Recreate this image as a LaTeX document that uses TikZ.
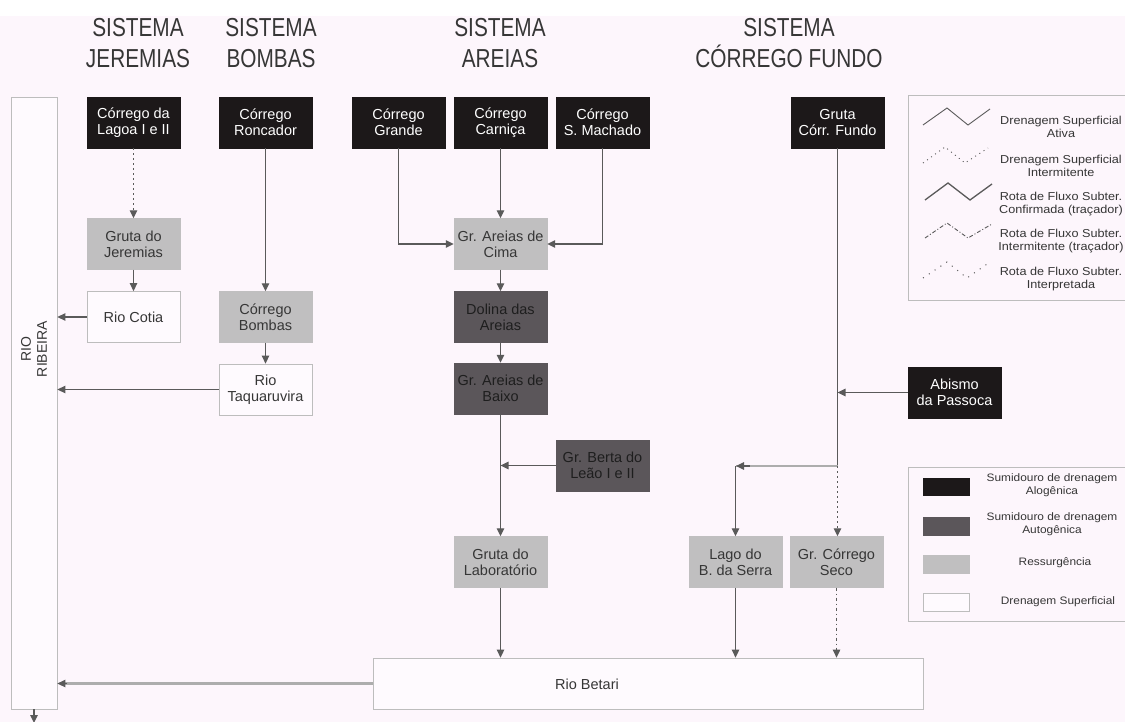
\documentclass[tikz,border=0pt]{standalone}
\usepackage{fontspec}
\setmainfont{Liberation Sans}
\newfontfamily\hdfont[FakeStretch=0.8]{Liberation Sans}
\newfontfamily\lgfont[FakeStretch=1.1]{Liberation Sans}
\usetikzlibrary{arrows.meta,calc}
\definecolor{cBg}{HTML}{FDF6FC}
\definecolor{cBlack}{HTML}{1C1819}
\definecolor{cDark}{HTML}{5B565A}
\definecolor{cGrey}{HTML}{C0BFC0}
\definecolor{cWhite}{HTML}{FEFAFE}
\definecolor{cBorder}{HTML}{BDBDBD}
\definecolor{cLine}{HTML}{5A5A5A}
\definecolor{cWide}{HTML}{ADADAD}
\definecolor{cTxt}{HTML}{363636}
\definecolor{cDarkTxt}{HTML}{1E1E1E}
\tikzset{
  box/.style={minimum width=93pt, minimum height=51pt, inner sep=1pt, align=center,
    font=\fontsize{14.5}{16}\selectfont},
  blk/.style={box, fill=cBlack, draw=cBlack, text=white},
  drk/.style={box, fill=cDark, draw=cDark, text=cDarkTxt},
  gry/.style={box, fill=cGrey, draw=cGrey, text=cTxt},
  wht/.style={box, fill=cWhite, draw=cBorder, line width=0.8pt, text=cTxt},
  hd/.style={align=center, text=cTxt, font=\hdfont\fontsize{26}{31}\selectfont},
  lg/.style={align=center, text=cTxt, font=\lgfont\fontsize{11.5}{13}\selectfont},
  lgb/.style={align=center, text=cTxt, font=\lgfont\fontsize{10.8}{13}\selectfont},
  conn/.style={draw=cLine, line width=1.3pt},
  flow/.style={conn, -{Triangle[length=8pt,width=7.5pt]}},
  wide/.style={draw=cWide, line width=2.4pt},
  dotline/.style={dash pattern=on 2pt off 3pt},
  ddline/.style={dash pattern=on 3pt off 3pt on 1pt off 3pt},
  frame/.style={draw=cBorder, line width=0.8pt},
}
\begin{document}
\begin{tikzpicture}[x=1pt,y=-1pt]
\useasboundingbox (0,0) rectangle (1125,722);
\fill[cBg] (0,0) rectangle (1125,722);
\fill[white] (0,0) rectangle (1125,16);

% headers
\node[hd] (hJ) at (138,43.5) {SISTEMA\\JEREMIAS};
\node[hd] (hB) at (271,43.5) {SISTEMA\\BOMBAS};
\node[hd] (hA) at (500,43.5) {SISTEMA\\AREIAS};
\node[hd] (hF) at (789,43.5) {SISTEMA\\CÓRREGO FUNDO};

% Rio Ribeira
\node[fill=cWhite, draw=cBorder, line width=0.8pt, minimum width=46pt, minimum height=612pt, inner sep=0pt] (ribeira) at (34,403) {};
\node[rotate=90, align=center, text=cTxt, font=\fontsize{14}{16}\selectfont] (ribtxt) at (34,349) {RIO\\RIBEIRA};

% row 1
\node[blk] (lagoa) at (133.5,122.5) {Córrego da\\Lagoa I e II};
\node[blk] (roncador) at (265.5,122.5) {Córrego\\Roncador};
\node[blk] (grande) at (398.5,122.5) {Córrego\\Grande};
\node[blk] (carnica) at (500.5,122.5) {Córrego\\Carniça};
\node[blk] (machado) at (602.5,122.5) {Córrego\\S. Machado};
\node[blk] (fundo) at (837.5,122.5) {Gruta\\Córr. Fundo};

% row 2
\node[gry] (jeremias) at (133.5,244) {Gruta do\\Jeremias};
\node[gry] (cima) at (500.5,244) {Gr. Areias de\\Cima};

% row 3
\node[wht] (cotia) at (133.5,317) {Rio Cotia};
\node[gry] (bombas) at (265.5,317) {Córrego\\Bombas};
\node[drk] (dolina) at (500.5,317) {Dolina das\\Areias};

% row 4
\node[wht] (taquaruvira) at (265.5,389.5) {Rio\\Taquaruvira};
\node[drk] (baixo) at (500.5,388.5) {Gr. Areias de\\Baixo};
\node[blk] (passoca) at (954.5,392.5) {Abismo\\da Passoca};

% row 5
\node[drk] (berta) at (602.5,465.5) {Gr. Berta do\\Leão I e II};

% row 6
\node[gry] (lab) at (500.5,562) {Gruta do\\Laboratório};
\node[gry] (lago) at (735.5,562) {Lago do\\B. da Serra};
\node[gry] (seco) at (836.5,562) {Gr. Córrego\\Seco};

% Rio Betari
\node[fill=cWhite, draw=cBorder, line width=0.8pt, minimum width=550pt, minimum height=51pt, inner sep=0pt] (betari) at (648,683.5) {};
\node[text=cTxt, font=\fontsize{14.5}{16}\selectfont] (betaritxt) at (587,684) {Rio Betari};

% connectors
\draw[flow, dotline] (lagoa) -- (jeremias);
\draw[flow] (jeremias) -- (cotia);
\draw[flow] (cotia.west) -- (cotia.west -| ribeira.east);
\draw[flow] (roncador) -- (bombas);
\draw[flow] (bombas) -- (taquaruvira);
\draw[flow] (taquaruvira.west) -- (taquaruvira.west -| ribeira.east);
\draw[flow] (grande.south) |- (cima.west);
\draw[flow] (carnica) -- (cima);
\draw[flow] (machado.south) |- (cima.east);
\draw[flow] (cima) -- (dolina);
\draw[flow] (dolina) -- (baixo);
\draw[flow] (baixo) -- (lab);
\draw[flow] (berta.west) -- (berta.west -| baixo.south);
\draw[flow] (lab) -- (lab |- betari.north);

\coordinate (jn) at (837.5,466);
\coordinate (cr) at (735.5,466);
\draw[conn] (fundo.south) -- (jn);
\draw[flow] (passoca.west) -- (passoca.west -| fundo.south);
\draw[wide] (jn) -- (cr);
\draw[flow] ($(cr)+(14,0)$) -- ($(cr)+(0.6,0)$);
\draw[flow] (cr) -- (lago.north);
\draw[flow, dotline] (jn) -- (jn |- seco.north);
\draw[flow] (lago) -- (lago |- betari.north);
\draw[flow, ddline] (seco) -- (seco |- betari.north);
\draw[wide] (betari.west) -- ($(betari.west -| ribeira.east)+(6,0)$);
\draw[flow] ($(betari.west -| ribeira.east)+(10,0)$) -- (betari.west -| ribeira.east);
\coordinate (rbout) at (34,723);
\draw[flow] (ribeira.south) -- (rbout);

% legend 1 (frame runs off the right edge)
\draw[frame] (1126,95) -- (908,95) -- (908,300) -- (1126,300);
\draw[cLine, line width=0.9pt] (923,125) -- (947,108) -- (968,125) -- (990,109);
\draw[cLine, line width=0.9pt, dash pattern=on 1pt off 4pt] (923,163) -- (945,147) -- (965,163) -- (988,148);
\draw[cLine, line width=1.3pt] (925,200) -- (948,183) -- (970,200) -- (992,184);
\draw[cLine, line width=0.9pt, dash pattern=on 4pt off 2pt on 1pt off 2pt] (925,238) -- (947,223) -- (968,238) -- (992,224);
\draw[cLine, line width=1pt, dash pattern=on 1pt off 6pt] (923,278) -- (947,262) -- (967,278) -- (990,262);
\node[lg] (l1) at (1061,127) {Drenagem Superficial\\Ativa};
\node[lg] (l2) at (1061,165.5) {Drenagem Superficial\\Intermitente};
\node[lg] (l3) at (1061,204) {Rota de Fluxo Subter.\\Confirmada (traçador)};
\node[lg] (l4) at (1061,241) {Rota de Fluxo Subter.\\Intermitente (traçador)};
\node[lg] (l5) at (1061,279) {Rota de Fluxo Subter.\\Interpretada};

% legend 2 (frame runs off the right edge)
\draw[frame] (1126,467) -- (908,467) -- (908,621) -- (1126,621);
\filldraw[fill=cBlack, draw=cBlack] (923,478) rectangle (969,495);
\filldraw[fill=cDark, draw=cDark] (923,517) rectangle (969,535);
\filldraw[fill=cGrey, draw=cGrey] (923,555) rectangle (969,573);
\filldraw[fill=cWhite, draw=cBorder, line width=0.8pt] (923,593) rectangle (969,611);
\node[lgb] (k1) at (1052,485.5) {Sumidouro de drenagem\\Alogênica};
\node[lgb] (k2) at (1052,524) {Sumidouro de drenagem\\Autogênica};
\node[lgb] (k3) at (1055,563) {Ressurgência};
\node[lgb] (k4) at (1058,602) {Drenagem Superficial};
\end{tikzpicture}
\end{document}
